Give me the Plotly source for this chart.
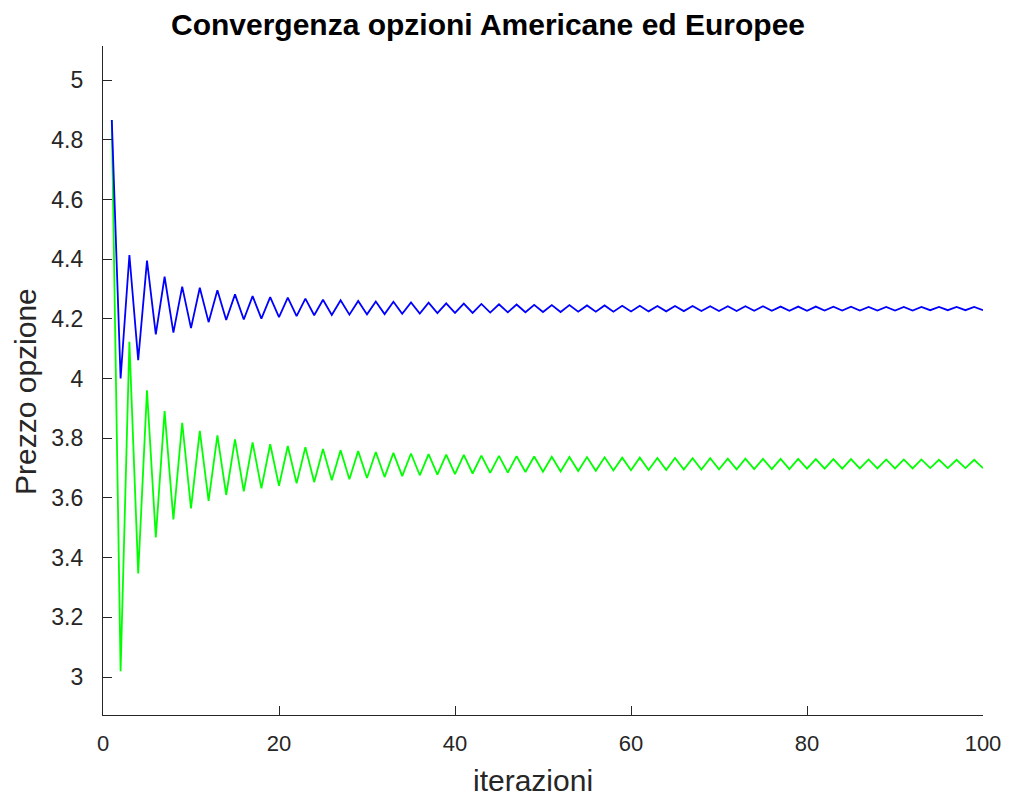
import plotly.graph_objects as go

iterazioni = list(range(1, 101))

americana = [
    4.866, 4.000, 4.414, 4.062, 4.395, 4.148, 4.341, 4.154, 4.308, 4.169,
    4.304, 4.189, 4.296, 4.196, 4.282, 4.198, 4.276, 4.201, 4.273, 4.206,
    4.271, 4.209, 4.268, 4.212, 4.264, 4.213, 4.262, 4.214, 4.260, 4.215,
    4.258, 4.216, 4.257, 4.217, 4.255, 4.218, 4.254, 4.219, 4.252, 4.220,
    4.251, 4.220, 4.250, 4.221, 4.249, 4.222, 4.248, 4.222, 4.247, 4.223,
    4.246, 4.223, 4.246, 4.224, 4.245, 4.224, 4.245, 4.224, 4.244, 4.225,
    4.244, 4.225, 4.243, 4.225, 4.243, 4.226, 4.243, 4.226, 4.242, 4.226,
    4.242, 4.226, 4.242, 4.227, 4.242, 4.227, 4.241, 4.227, 4.241, 4.227,
    4.241, 4.228, 4.241, 4.228, 4.241, 4.228, 4.240, 4.228, 4.240, 4.228,
    4.240, 4.228, 4.240, 4.229, 4.240, 4.229, 4.240, 4.229, 4.240, 4.229,
]

europea = [
    4.866, 3.020, 4.123, 3.347, 3.961, 3.468, 3.891, 3.528, 3.852, 3.565,
    3.825, 3.590, 3.810, 3.610, 3.796, 3.622, 3.786, 3.632, 3.780, 3.641,
    3.774, 3.649, 3.770, 3.653, 3.764, 3.659, 3.760, 3.663, 3.757, 3.667,
    3.754, 3.670, 3.751, 3.673, 3.749, 3.676, 3.747, 3.678, 3.745, 3.680,
    3.744, 3.682, 3.742, 3.684, 3.741, 3.685, 3.740, 3.687, 3.739, 3.688,
    3.738, 3.689, 3.737, 3.690, 3.737, 3.691, 3.736, 3.692, 3.735, 3.693,
    3.735, 3.694, 3.734, 3.694, 3.734, 3.695, 3.733, 3.695, 3.733, 3.696,
    3.732, 3.696, 3.732, 3.697, 3.731, 3.697, 3.731, 3.697, 3.731, 3.698,
    3.730, 3.698, 3.730, 3.698, 3.730, 3.699, 3.729, 3.699, 3.729, 3.699,
    3.729, 3.699, 3.729, 3.700, 3.728, 3.700, 3.728, 3.700, 3.728, 3.700,
]

x_ticks = [0, 20, 40, 60, 80, 100]
y_ticks = [3, 3.2, 3.4, 3.6, 3.8, 4, 4.2, 4.4, 4.6, 4.8, 5]

axis_col = "#262626"
font_fam = "Liberation Sans, Arial, sans-serif"
W, H = 1009, 796

fig = go.Figure()
fig.add_trace(go.Scatter(x=iterazioni, y=europea, mode="lines",
                         line=dict(color="#00ff00", width=1.8), name="Europea"))
fig.add_trace(go.Scatter(x=iterazioni, y=americana, mode="lines",
                         line=dict(color="#0000ff", width=1.8), name="Americana"))

fig.update_layout(
    width=W, height=H,
    margin=dict(l=103, r=26, t=46, b=81),
    paper_bgcolor="white", plot_bgcolor="white",
    showlegend=False,
    font=dict(family=font_fam, color=axis_col, size=21),
    title=dict(text="<b>Convergenza opzioni Americane ed Europee</b>",
               x=488 / W, xanchor="center", y=1 - 24 / H, yanchor="middle",
               font=dict(family=font_fam, size=30, color="black")),
    xaxis=dict(range=[0, 100], tickvals=x_ticks, ticks="inside", ticklen=9,
               tickwidth=1.3, tickcolor=axis_col, showline=True, linecolor=axis_col,
               linewidth=1.3, showgrid=False, zeroline=False, mirror=False,
               automargin=False, ticklabelstandoff=8,
               tickfont=dict(size=22)),
    yaxis=dict(range=[2.873, 5.114], tickvals=y_ticks, ticks="inside", ticklen=9,
               tickwidth=1.3, tickcolor=axis_col, showline=True, linecolor=axis_col,
               linewidth=1.3, showgrid=False, zeroline=False, mirror=False,
               automargin=False, ticklabelstandoff=14,
               tickfont=dict(size=23)),
    annotations=[
        dict(text="iterazioni", xref="paper", yref="paper",
             x=(533 - 103) / (W - 103 - 26), y=-(780 - 715) / (H - 46 - 81),
             xanchor="center", yanchor="middle", showarrow=False,
             font=dict(size=30, color=axis_col)),
        dict(text="Prezzo opzione", xref="paper", yref="paper",
             x=-(103 - 25) / (W - 103 - 26), y=(715 - 392) / (H - 46 - 81),
             xanchor="center", yanchor="middle", showarrow=False, textangle=-90,
             font=dict(size=30, color=axis_col)),
    ],
)

fig.write_html("out.html")
